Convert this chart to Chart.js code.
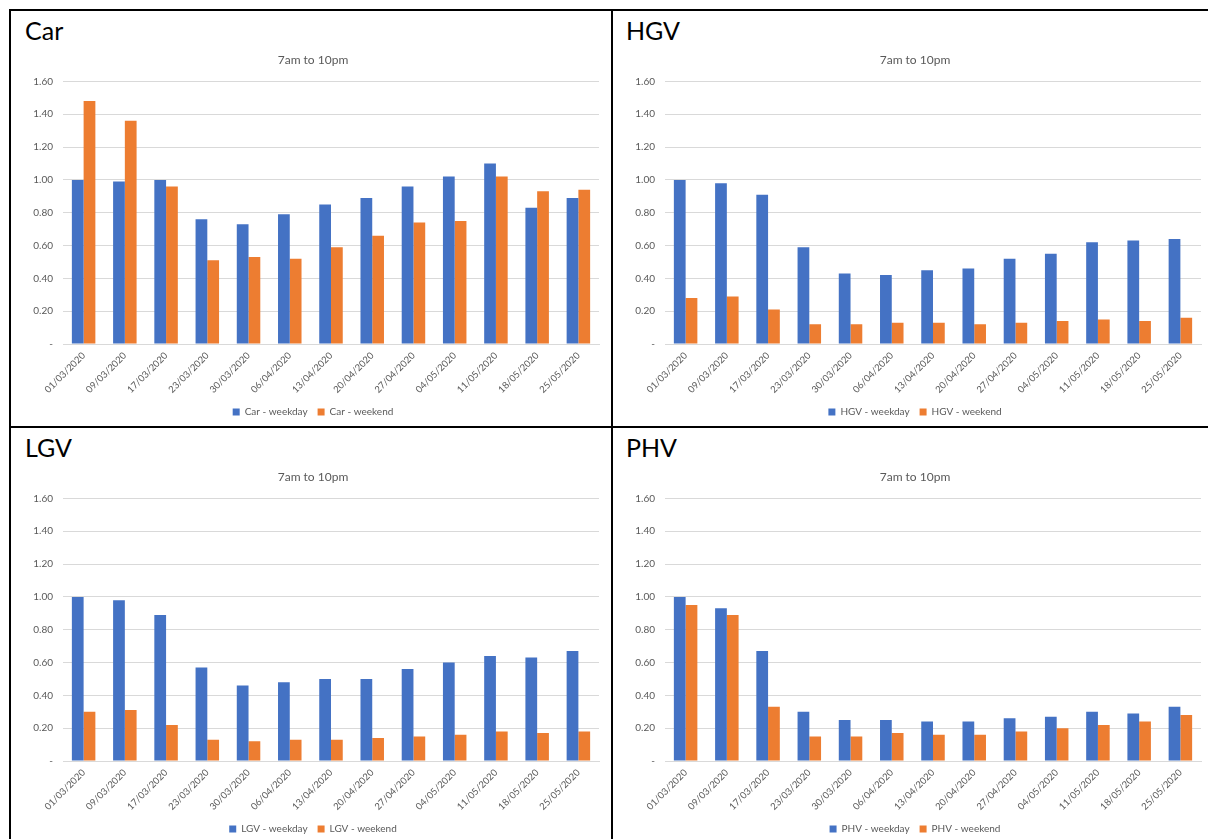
<!DOCTYPE html>
<html>
<head>
<meta charset="utf-8">
<script src="https://cdn.jsdelivr.net/npm/chart.js@4/dist/chart.umd.min.js"></script>
<style>
  html, body { margin: 0; padding: 0; background: #fff; overflow: hidden; }
  body { width: 1208px; height: 839px; position: relative; font-family: Lato, "Liberation Sans", sans-serif; }
  .line { position: absolute; background: #000; }
  .head { position: absolute; font-size: 25px; line-height: 30px; color: #000; }
  canvas { position: absolute; }
</style>
</head>
<body>
<div class="line" style="left:9px;top:9px;width:1199px;height:2px"></div>
<div class="line" style="left:9px;top:9px;width:2px;height:830px"></div>
<div class="line" style="left:611px;top:9px;width:2px;height:830px"></div>
<div class="line" style="left:9px;top:426px;width:1199px;height:2px"></div>

<div class="head" style="left:25px;top:15px">Car</div>
<div class="head" style="left:626px;top:15px">HGV</div>
<div class="head" style="left:25px;top:432px">LGV</div>
<div class="head" style="left:626px;top:432px">PHV</div>

<canvas id="car" width="578" height="381" style="left:27px;top:46px"></canvas>
<canvas id="hgv" width="578" height="381" style="left:629px;top:46px"></canvas>
<canvas id="lgv" width="578" height="381" style="left:27px;top:463px"></canvas>
<canvas id="phv" width="578" height="381" style="left:629px;top:463px"></canvas>

<script>
// Week start dates
const weeks = ['01/03/2020', '09/03/2020', '17/03/2020', '23/03/2020', '30/03/2020', '06/04/2020',
  '13/04/2020', '20/04/2020', '27/04/2020', '04/05/2020', '11/05/2020', '18/05/2020', '25/05/2020'];

// Traffic index relative to baseline week, 7am to 10pm
const carWeekday = [1.00, 0.99, 1.00, 0.76, 0.73, 0.79, 0.85, 0.89, 0.96, 1.02, 1.10, 0.83, 0.89];
const carWeekend = [1.48, 1.36, 0.96, 0.51, 0.53, 0.52, 0.59, 0.66, 0.74, 0.75, 1.02, 0.93, 0.94];

const hgvWeekday = [1.00, 0.98, 0.91, 0.59, 0.43, 0.42, 0.45, 0.46, 0.52, 0.55, 0.62, 0.63, 0.64];
const hgvWeekend = [0.28, 0.29, 0.21, 0.12, 0.12, 0.13, 0.13, 0.12, 0.13, 0.14, 0.15, 0.14, 0.16];

const lgvWeekday = [1.00, 0.98, 0.89, 0.57, 0.46, 0.48, 0.50, 0.50, 0.56, 0.60, 0.64, 0.63, 0.67];
const lgvWeekend = [0.30, 0.31, 0.22, 0.13, 0.12, 0.13, 0.13, 0.14, 0.15, 0.16, 0.18, 0.17, 0.18];

const phvWeekday = [1.00, 0.93, 0.67, 0.30, 0.25, 0.25, 0.24, 0.24, 0.26, 0.27, 0.30, 0.29, 0.33];
const phvWeekend = [0.95, 0.89, 0.33, 0.15, 0.15, 0.17, 0.16, 0.16, 0.18, 0.20, 0.22, 0.24, 0.28];

const yTicks = { min: 0, max: 1.6, step: 0.2 };
const chartTitle = '7am to 10pm';

const BLUE = '#4472C4';
const ORANGE = '#ED7D31';
const TEXT = '#595959';
const GRID = '#D9D9D9';
const FONT = 'Lato, "Liberation Sans", sans-serif';

function drawPanel(id, name, weekday, weekend) {
  new Chart(document.getElementById(id), {
    type: 'bar',
    data: {
      labels: weeks,
      datasets: [
        { label: name + ' - weekday', data: weekday, backgroundColor: BLUE },
        { label: name + ' - weekend', data: weekend, backgroundColor: ORANGE }
      ]
    },
    options: {
      responsive: false,
      animation: false,
      devicePixelRatio: 1,
      layout: { padding: { left: 0, right: 6, top: 0, bottom: 0 } },
      datasets: { bar: { categoryPercentage: 0.57, barPercentage: 1.0 } },
      plugins: {
        title: {
          display: true, text: chartTitle, color: TEXT,
          font: { family: FONT, size: 12, weight: 'normal' },
          padding: { top: 7, bottom: 14 }
        },
        legend: {
          position: 'bottom',
          labels: {
            boxWidth: 7, boxHeight: 7, color: TEXT, padding: 10,
            font: { family: FONT, size: 10 }
          }
        },
        tooltip: { enabled: false }
      },
      scales: {
        x: {
          grid: { display: false, drawTicks: false },
          border: { color: GRID },
          ticks: {
            minRotation: 45, maxRotation: 45, autoSkip: false, padding: 6,
            color: TEXT, font: { family: FONT, size: 9.5 }
          },
          afterFit(scale) { scale.height = 53; }
        },
        y: {
          min: yTicks.min, max: yTicks.max,
          grid: { color: GRID, drawTicks: false },
          border: { display: false },
          ticks: {
            stepSize: yTicks.step, padding: 10, color: TEXT,
            font: { family: FONT, size: 10 },
            callback: v => (Math.abs(v) < 1e-9 ? '-' : Number(v).toFixed(2))
          },
          afterFit(scale) { scale.width = 36; }
        }
      }
    }
  });
}

drawPanel('car', 'Car', carWeekday, carWeekend);
drawPanel('hgv', 'HGV', hgvWeekday, hgvWeekend);
drawPanel('lgv', 'LGV', lgvWeekday, lgvWeekend);
drawPanel('phv', 'PHV', phvWeekday, phvWeekend);
</script>
</body>
</html>
